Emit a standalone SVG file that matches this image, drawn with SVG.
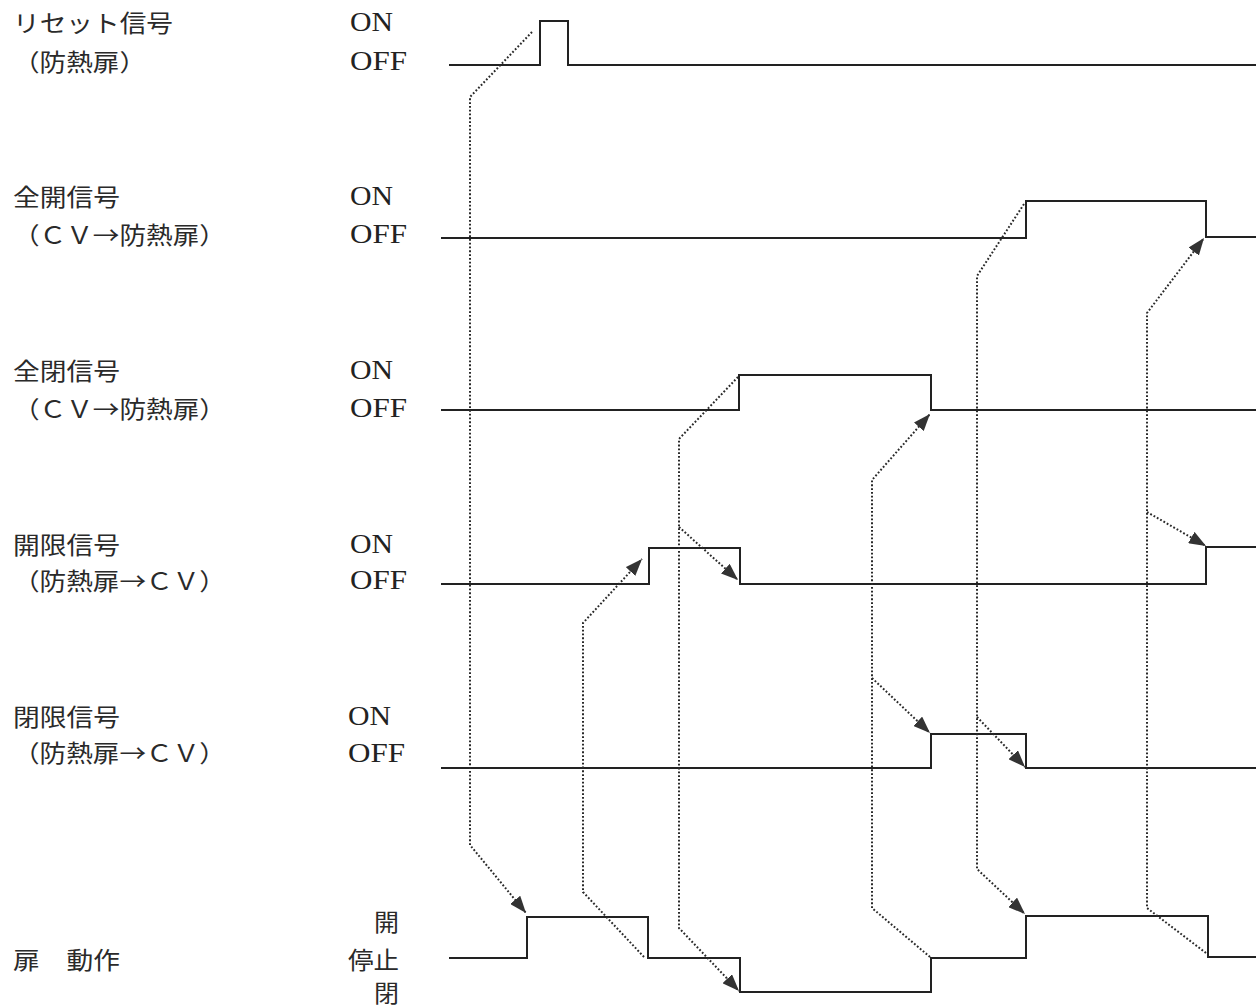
<svg xmlns="http://www.w3.org/2000/svg" width="1256" height="1008" viewBox="0 0 1256 1008">
<defs>
<style>
.jp{font-family:"Noto Sans CJK JP","Noto Sans CJK SC",sans-serif;font-size:23.5px;fill:#2a2a2a}
.lt{font-family:"Liberation Serif","Noto Sans CJK JP",serif;font-size:27px;fill:#222}
.sig{fill:none;stroke:#222;stroke-width:2;stroke-linejoin:miter}
.dot{fill:none;stroke:#2a2a2a;stroke-width:2;stroke-dasharray:1.8 2}
</style>
<marker id="ah" viewBox="0 0 17 13" refX="17" refY="6.5" markerWidth="17" markerHeight="13" markerUnits="userSpaceOnUse" orient="auto">
<path d="M0,0 L17,6.5 L0,13 Z" fill="#333"/>
</marker>
</defs>
<rect width="1256" height="1008" fill="#fff"/>

<g id="reset">
<text class="jp" x="13" y="32" textLength="160" lengthAdjust="spacingAndGlyphs">リセット信号</text>
<text class="jp" x="13" y="71" textLength="133" lengthAdjust="spacingAndGlyphs">（防熱扉）</text>
<text class="lt" x="350" y="31" textLength="43" lengthAdjust="spacingAndGlyphs">ON</text>
<text class="lt" x="350" y="70" textLength="57" lengthAdjust="spacingAndGlyphs">OFF</text>
<path class="sig" d="M449,65 H540 V21 H568 V65 H1256"/>
</g>

<g id="full-open">
<text class="jp" x="13" y="206" textLength="107" lengthAdjust="spacingAndGlyphs">全開信号</text>
<text class="jp" x="13" y="244" textLength="213" lengthAdjust="spacingAndGlyphs">（ＣＶ→防熱扉）</text>
<text class="lt" x="350" y="205" textLength="43" lengthAdjust="spacingAndGlyphs">ON</text>
<text class="lt" x="350" y="243" textLength="57" lengthAdjust="spacingAndGlyphs">OFF</text>
<path class="sig" d="M441,238 H1026 V201 H1206 V237 H1256"/>
</g>

<g id="full-close">
<text class="jp" x="13" y="380" textLength="107" lengthAdjust="spacingAndGlyphs">全閉信号</text>
<text class="jp" x="13" y="418" textLength="213" lengthAdjust="spacingAndGlyphs">（ＣＶ→防熱扉）</text>
<text class="lt" x="350" y="379" textLength="43" lengthAdjust="spacingAndGlyphs">ON</text>
<text class="lt" x="350" y="417" textLength="57" lengthAdjust="spacingAndGlyphs">OFF</text>
<path class="sig" d="M441,410 H739 V375 H931 V410 H1256"/>
</g>

<g id="open-limit">
<text class="jp" x="13" y="554" textLength="107" lengthAdjust="spacingAndGlyphs">開限信号</text>
<text class="jp" x="13" y="590" textLength="213" lengthAdjust="spacingAndGlyphs">（防熱扉→ＣＶ）</text>
<text class="lt" x="350" y="553" textLength="43" lengthAdjust="spacingAndGlyphs">ON</text>
<text class="lt" x="350" y="589" textLength="57" lengthAdjust="spacingAndGlyphs">OFF</text>
<path class="sig" d="M441,584 H649 V548 H740 V584 H1206 V547 H1256"/>
</g>

<g id="close-limit">
<text class="jp" x="13" y="726" textLength="107" lengthAdjust="spacingAndGlyphs">閉限信号</text>
<text class="jp" x="13" y="762" textLength="213" lengthAdjust="spacingAndGlyphs">（防熱扉→ＣＶ）</text>
<text class="lt" x="348" y="725" textLength="43" lengthAdjust="spacingAndGlyphs">ON</text>
<text class="lt" x="348" y="762" textLength="57" lengthAdjust="spacingAndGlyphs">OFF</text>
<path class="sig" d="M441,768 H931 V734 H1026 V768 H1256"/>
</g>

<g id="door">
<text class="jp" x="13" y="969" textLength="107" lengthAdjust="spacingAndGlyphs">扉　動作</text>
<text class="jp" x="374" y="931" textLength="25" lengthAdjust="spacingAndGlyphs">開</text>
<text class="jp" x="348" y="969" textLength="51" lengthAdjust="spacingAndGlyphs">停止</text>
<text class="jp" x="374" y="1002" textLength="25" lengthAdjust="spacingAndGlyphs">閉</text>
<path class="sig" d="M449,958 H527 V917 H648 V958 H740 V992 H931 V958 H1026 V916 H1208 V957 H1256"/>
</g>

<g id="connectors">
<path class="dot" marker-end="url(#ah)" d="M532,32 L470,97 L470,845 L526,913"/>
<path class="dot" marker-end="url(#ah)" d="M738,377 L679,439 L679,928 L739,991"/>
<path class="dot" marker-end="url(#ah)" d="M679,527 L738,580"/>
<path class="dot" marker-end="url(#ah)" d="M644,957 L583,892 L583,623 L642,559"/>
<path class="dot" marker-end="url(#ah)" d="M930,957 L872,908 L872,480 L930,414"/>
<path class="dot" marker-end="url(#ah)" d="M872,678 L930,733"/>
<path class="dot" marker-end="url(#ah)" d="M1024,204 L977,276 L977,869 L1025,914"/>
<path class="dot" marker-end="url(#ah)" d="M977,717 L1025,767"/>
<path class="dot" marker-end="url(#ah)" d="M1206,953 L1147,908 L1147,313 L1204,238"/>
<path class="dot" marker-end="url(#ah)" d="M1147,512 L1206,546"/>
</g>
</svg>
